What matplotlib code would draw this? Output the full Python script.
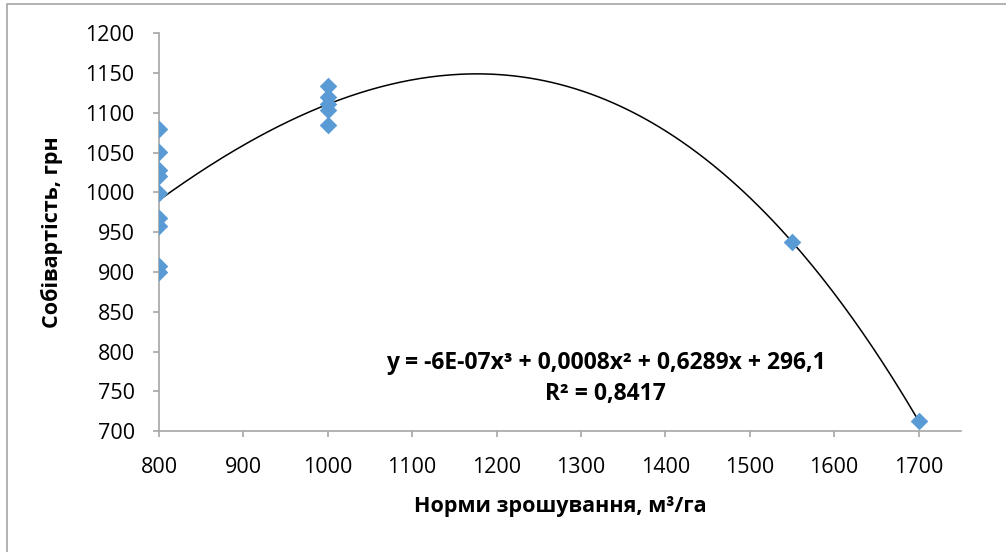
import numpy as np
import matplotlib
matplotlib.use("Agg")
import matplotlib.pyplot as plt
from matplotlib.patches import Rectangle

plt.rcParams['font.family'] = ['Open Sans', 'DejaVu Sans']

# irrigation rate, m3/ha
norms = [800, 800, 800, 800, 800, 800, 800, 800, 800,
         1000, 1000, 1000, 1000, 1000,
         1550, 1700]
# cost, UAH
cost = [1079, 1051, 1028, 1020, 999, 968, 958, 907, 900,
        1134, 1120, 1111, 1104, 1084,
        938, 713]

eq_text = "y = -6E-07x³ + 0,0008x² + 0,6289x + 296,1\nR² = 0,8417"

fig = plt.figure(figsize=(10.06, 5.52), dpi=100)
ax = fig.add_axes([0.158, 0.219, 0.797, 0.721])

# chart border (only left and top visible in the reference)
fig.patches.append(Rectangle((0.007, -0.1), 1.2, 0.0925 + 1.0,
                             transform=fig.transFigure, fill=False,
                             edgecolor="#a6a6a6", linewidth=1.2))

coef = np.polyfit(norms, cost, 3)
xs = np.linspace(800, 1700, 300)
ax.plot(xs, np.polyval(coef, xs), color="black", linewidth=1.1, zorder=2)
ax.scatter(norms, cost, marker="D", s=80, color="#5b9bd5", zorder=3,
           linewidths=0)

ax.set_xlim(800, 1750)
ax.set_ylim(700, 1200)
ax.set_xticks(range(800, 1701, 100))
ax.set_yticks(range(700, 1201, 50))

for s in ["top", "right"]:
    ax.spines[s].set_visible(False)
for s in ["left", "bottom"]:
    ax.spines[s].set_color("#a6a6a6")
    ax.spines[s].set_linewidth(1.2)
ax.tick_params(colors="#a6a6a6", length=4.5, width=1.2, labelcolor="black",
               labelsize=15.5)
ax.tick_params(axis="x", pad=14)
ax.tick_params(axis="y", pad=13)

ax.set_xlabel("Норми зрошування, м³/га", fontsize=15.5, fontweight="bold",
              labelpad=13)
ax.set_ylabel("Собівартість, грн", fontsize=15.5, fontweight="bold",
              labelpad=16)

ax.text(1329, 766, eq_text, ha="center", va="center", fontsize=16.5,
        fontweight="bold", linespacing=1.35)

fig.savefig("out.png")
